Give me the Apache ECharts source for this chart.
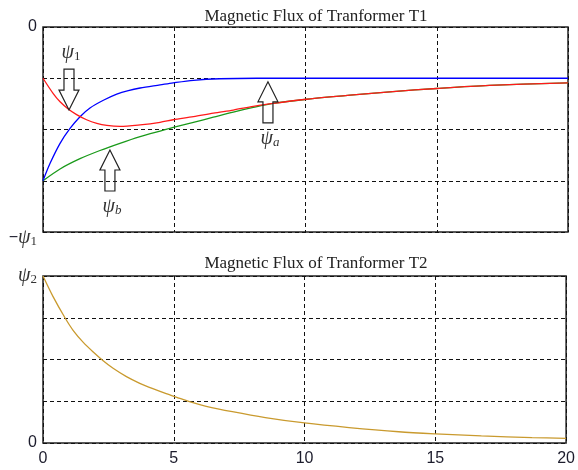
<!DOCTYPE html>
<html>
<head>
<meta charset="utf-8">
<script src="https://cdn.jsdelivr.net/npm/echarts@6/dist/echarts.min.js"></script>
<style>html,body{margin:0;padding:0;background:#fff;}#c{width:578px;height:470px;}</style>
</head>
<body>
<div id="c"></div>
<script>
// ---- data (time axis 0..20, top plot 0 .. -ψ1 scaled to 0..-4, bottom 0..ψ2 scaled to 0..4)
const xTicks = [0, 5, 10, 15, 20];
const blueT  = [0, 0.27, 0.65, 1.03, 1.41, 1.79, 2.30, 2.81, 3.25, 3.70, 4.46, 4.96, 5.73, 6.74, 8.14, 10, 15, 20];
const blueY  = [-3, -2.66, -2.27, -1.98, -1.75, -1.58, -1.43, -1.31, -1.24, -1.19, -1.13, -1.09, -1.04, -1.01, -1.0, -1.0, -1.0, -1.0];
const redT   = [0, 0.39, 0.65, 0.96, 1.28, 1.66, 2.05, 2.43, 2.93, 3.70, 4.46, 4.96, 5.73, 6.49, 7.25, 8.01, 8.77, 10.05, 11.7, 13.33, 15, 17, 20];
const redY   = [-1, -1.30, -1.46, -1.60, -1.71, -1.81, -1.88, -1.92, -1.94, -1.91, -1.86, -1.81, -1.75, -1.68, -1.62, -1.55, -1.49, -1.41, -1.33, -1.26, -1.20, -1.14, -1.09];
const greenT = [0, 0.65, 1.41, 2.17, 2.93, 3.70, 4.46, 4.96, 5.73, 6.49, 7.25, 8.01, 8.77, 10.05, 11.7, 13.33, 15, 17, 20];
const greenY = [-3, -2.77, -2.57, -2.41, -2.27, -2.14, -2.03, -1.96, -1.86, -1.76, -1.66, -1.57, -1.49, -1.41, -1.33, -1.26, -1.20, -1.14, -1.09];
const goldT  = [0, 0.39, 0.84, 1.15, 1.54, 1.92, 2.30, 2.68, 3.19, 3.70, 4.20, 4.71, 5.09, 5.6, 6.24, 7.24, 8.5, 10, 11.7, 13.6, 15, 16.76, 18.7, 20];
const goldY  = [4, 3.5, 3.0, 2.7, 2.41, 2.18, 1.97, 1.79, 1.59, 1.43, 1.30, 1.18, 1.10, 0.99, 0.88, 0.75, 0.61, 0.48, 0.37, 0.27, 0.22, 0.17, 0.13, 0.11];
const titles = ['Magnetic Flux of Tranformer T1', 'Magnetic Flux of Tranformer T2'];
// annotation arrows: label main, label sub, tip t, tip y, direction
const arrowMain  = ['ψ', 'ψ', 'ψ'];
const arrowSub   = ['1', 'b', 'a'];
const arrowTipT  = [0.99, 2.55, 8.57];
const arrowTipY  = [-1.62, -2.40, -1.07];
const arrowDir   = ['down', 'up', 'up'];

const pairs = (t, y) => t.map((v, i) => [v, y[i]]);
const serif = 'Liberation Serif';
const sans = 'Liberation Sans';
const gridLine = { show: true, lineStyle: { color: '#111', type: [4, 3], width: 1 } };

const chart = echarts.init(document.getElementById('c'), null, { renderer: 'canvas' });
const richLab = {
  n: { fontFamily: sans, fontSize: 16, color: '#1c1c2c' },
  m: { fontFamily: sans, fontSize: 16, color: '#1c1c2c', padding: [12, 0, 0, 0] },
  p: { fontFamily: serif, fontStyle: 'italic', fontSize: 20, color: '#333', padding: [12, 0, 0, 0] },
  s: { fontFamily: serif, fontSize: 13, color: '#333', padding: [20, 0, 0, 0] },
  p2: { fontFamily: serif, fontStyle: 'italic', fontSize: 20, color: '#333' },
  s2: { fontFamily: serif, fontSize: 13, color: '#333', padding: [8, 0, 0, 0] }
};
const lineSeries = (xi, t, y, color) => ({
  type: 'line', xAxisIndex: xi, yAxisIndex: xi, data: pairs(t, y), smooth: 0.3,
  showSymbol: false, lineStyle: { color: color, width: 1.3 }
});
chart.setOption({
  animation: false,
  backgroundColor: '#fff',
  title: [
    { text: titles[0], left: 311, top: 3, textAlign: 'center', textStyle: { fontFamily: serif, fontSize: 17, fontWeight: 'normal', color: '#222' } },
    { text: titles[1], left: 311, top: 250, textAlign: 'center', textStyle: { fontFamily: serif, fontSize: 17, fontWeight: 'normal', color: '#222' } }
  ],
  grid: [
    { left: 43, top: 27, width: 525, height: 205, show: true, borderColor: '#222', borderWidth: 1.5, backgroundColor: 'transparent' },
    { left: 43, top: 276, width: 525, height: 167, show: true, borderColor: '#222', borderWidth: 1.5, backgroundColor: 'transparent' }
  ],
  xAxis: [
    { gridIndex: 0, type: 'value', min: 0, max: 20, interval: 5, axisLabel: { show: false }, axisLine: { show: false }, axisTick: { show: false }, splitLine: gridLine },
    { gridIndex: 1, type: 'value', min: 0, max: 20, interval: 5, axisLine: { show: false }, axisTick: { show: false }, splitLine: gridLine,
      axisLabel: { fontFamily: sans, fontSize: 16, color: '#1c1c2c', margin: 8, formatter: v => xTicks.includes(v) ? String(v) : '' } }
  ],
  yAxis: [
    { gridIndex: 0, type: 'value', min: -4, max: 0, interval: 1, axisLine: { show: false }, axisTick: { show: false }, splitLine: gridLine,
      axisLabel: { margin: 6, rich: richLab, formatter: v => v === 0 ? '{n|0}' : (v === -4 ? '{m|−}{p|ψ}{s|1}' : '') } },
    { gridIndex: 1, type: 'value', min: 0, max: 4, interval: 1, axisLine: { show: false }, axisTick: { show: false }, splitLine: gridLine,
      axisLabel: { margin: 6, rich: richLab, formatter: v => v === 0 ? '{n|0}' : (v === 4 ? '{p2|ψ}{s2|2}' : '') } }
  ],
  series: [
    lineSeries(0, greenT, greenY, '#1a9a1a'),
    lineSeries(0, blueT, blueY, '#0000ff'),
    lineSeries(0, redT, redY, '#ff1a1a'),
    lineSeries(1, goldT, goldY, '#c99a2e')
  ]
});

// arrows drawn from data anchors
const graphics = [];
arrowMain.forEach((mainTxt, i) => {
  const [tx, ty] = chart.convertToPixel({ gridIndex: 0 }, [arrowTipT[i], arrowTipY[i]]);
  const s = arrowDir[i] === 'down' ? -1 : 1; // body direction relative to tip
  const L = 41, H = 20, sw = 5, hw = 10;
  const pts = [
    [tx - sw, ty + s * L], [tx + sw, ty + s * L], [tx + sw, ty + s * H],
    [tx + hw, ty + s * H], [tx, ty], [tx - hw, ty + s * H], [tx - sw, ty + s * H]
  ];
  graphics.push({ type: 'polygon', shape: { points: pts }, style: { fill: 'none', stroke: '#222', lineWidth: 1.2 }, z: 100 });
  const ly = ty + s * (L + 16);
  const subItalic = arrowSub[i] !== '1';
  graphics.push({ type: 'text', x: tx + 2, y: ly, z: 100,
    style: { text: '{p|' + mainTxt + '}{s|' + arrowSub[i] + '}', align: 'center', verticalAlign: 'middle',
      rich: {
        p: { fontFamily: serif, fontStyle: 'italic', fontSize: 20, fill: '#333' },
        s: { fontFamily: serif, fontStyle: subItalic ? 'italic' : 'normal', fontSize: 13, fill: '#333', padding: [8, 0, 0, 0] }
      } } });
});
chart.setOption({ graphic: graphics });
</script>
</body>
</html>
